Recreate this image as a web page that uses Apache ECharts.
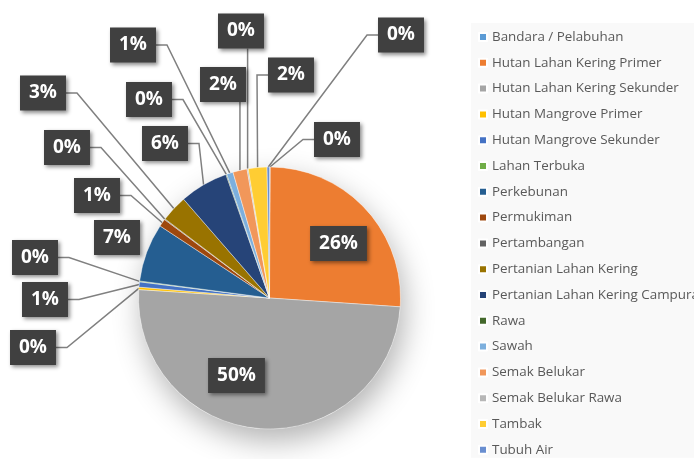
<!DOCTYPE html>
<html><head><meta charset="utf-8">
<script src="https://cdn.jsdelivr.net/npm/echarts@6/dist/echarts.min.js"></script>
<style>html,body{margin:0;padding:0;background:#fff}#c{width:694px;height:459px}</style>
</head><body><div id="c"></div>
<script>
// ---- data (share of area, %) ----
const categories = [
  'Bandara / Pelabuhan', 'Hutan Lahan Kering Primer', 'Hutan Lahan Kering Sekunder',
  'Hutan Mangrove Primer', 'Hutan Mangrove Sekunder', 'Lahan Terbuka', 'Perkebunan',
  'Permukiman', 'Pertambangan', 'Pertanian Lahan Kering', 'Pertanian Lahan Kering Campuran',
  'Rawa', 'Sawah', 'Semak Belukar', 'Semak Belukar Rawa', 'Tambak', 'Tubuh Air'
];
const values = [0.1, 26.0, 50.0, 0.3, 0.65, 0.1, 7.2, 0.95, 0.1, 3.3, 6.0, 0.1, 0.8, 1.75, 0.15, 2.3, 0.3];

// ---- styling ----
const colors = ['#5B9BD5', '#ED7D31', '#A5A5A5', '#FFC000', '#4472C4', '#70AD47', '#255E91',
  '#9E480E', '#636363', '#997300', '#264478', '#43682B', '#7CAFDD', '#F1975A', '#B7B7B7', '#FFCD33', '#698ED0'];
// label box centre and leader-line anchor side (l = left, r = right, b = bottom, n = none)
const labelLayoutCfg = [
  [337, 139.5, 'l'], [338.5, 243.5, 'n'], [236.5, 375.5, 'n'], [33, 347.5, 'r'],
  [45, 299.5, 'r'], [35, 257.5, 'r'], [117, 237.5, 'n'], [97, 195.5, 'r'],
  [67, 147.5, 'r'], [43, 93, 'r'], [165, 143.5, 'r'], [149, 99.5, 'r'],
  [133, 45, 'r'], [223, 84.5, 'b'], [241, 31, 'b'], [291, 75, 'l'], [401, 35, 'l']
];

const chart = echarts.init(document.getElementById('c'));
const pieData = categories.map((n, i) => ({
  name: n, value: values[i],
  itemStyle: {color: colors[i]},
  labelLine: {show: labelLayoutCfg[i][2] !== 'n'}
}));

chart.setOption({
  animation: false,
  backgroundColor: '#ffffff',
  legend: {
    orient: 'vertical', left: 471, top: 23, height: 436,
    data: categories, icon: 'rect', itemWidth: 8, itemHeight: 8, itemGap: 9.8,
    textStyle: {fontFamily: 'Open Sans', fontSize: 13.4, color: '#595959', lineHeight: 16},
    backgroundColor: '#f9f9f9', padding: [6, 40, 0, 7],
    selectedMode: false
  },
  series: [
    {
      type: 'pie', name: 'shadow', silent: true, center: [269.5, 298], radius: 131,
      data: [{value: 1, name: '__shadow'}],
      label: {show: false}, labelLine: {show: false},
      itemStyle: {color: '#ffffff', shadowBlur: 30, shadowOffsetX: 4, shadowOffsetY: 12, shadowColor: 'rgba(0,0,0,0.3)'},
      emphasis: {disabled: true}, tooltip: {show: false}
    },
    {
      type: 'pie', name: 'Tutupan Lahan', center: [269.5, 298], radius: 131,
      startAngle: 90, clockwise: true, avoidLabelOverlap: false,
      data: pieData,
      itemStyle: {borderColor: '#ffffff', borderWidth: 0.4},
      label: {
        show: true, position: 'outside',
        formatter: p => Math.round(p.percent) + '%',
        color: '#ffffff', fontFamily: 'Open Sans', fontWeight: 'bold', fontSize: 19,
        lineHeight: 23, padding: [6, 9], backgroundColor: '#404040',
        shadowBlur: 4, shadowColor: 'rgba(0,0,0,0.45)', shadowOffsetX: 2, shadowOffsetY: 2
      },
      labelLine: {show: true, length: 10, length2: 10, lineStyle: {color: '#808080', width: 1.5}},
      labelLayout: function (p) {
        const L = labelLayoutCfg[p.dataIndex];
        const x = L[0], y = L[1];
        const out = {x: x, y: y, align: 'center', verticalAlign: 'middle'};
        const a = p.labelLinePoints;
        if (a && L[2] !== 'n') {
          const hw = p.labelRect.width / 2, hh = p.labelRect.height / 2;
          const s = a[0];
          if (L[2] === 'r') out.labelLinePoints = [s, [x + hw + 11, y], [x + hw, y]];
          else if (L[2] === 'l') out.labelLinePoints = [s, [x - hw - 11, y], [x - hw, y]];
          else out.labelLinePoints = [s, [s[0], y + hh], [s[0], y + hh]];
        }
        return out;
      },
      emphasis: {disabled: true}
    }
  ]
});
</script>
</body></html>
